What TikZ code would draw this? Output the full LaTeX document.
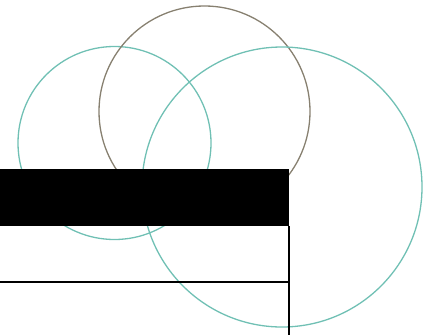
\documentclass[tikz,border=0pt]{standalone}
\definecolor{tealc}{RGB}{112,192,180}
\definecolor{greyc}{RGB}{135,128,112}
\begin{document}
\begin{tikzpicture}[x=1pt,y=-1pt,
  tealring/.style={draw=tealc, line width=1.3pt},
  greyring/.style={draw=greyc, line width=1.3pt},
  rulebar/.style={draw=black, line width=1.8pt}]
\useasboundingbox (0,0) rectangle (430,335);
\draw[tealring] (114.5,143) circle (96.5);
\draw[greyring] (204.5,111.5) circle (105.5);
\draw[tealring] (282,187) circle (140);
\fill[black] (0,169) rectangle (289,226);
\coordinate (a) at (0,282);
\coordinate (b) at (289,282);
\coordinate (c) at (289,226);
\coordinate (d) at (289,335);
\draw[rulebar] (a) -- (b);
\draw[rulebar] (c) -- (d);
\end{tikzpicture}
\end{document}
